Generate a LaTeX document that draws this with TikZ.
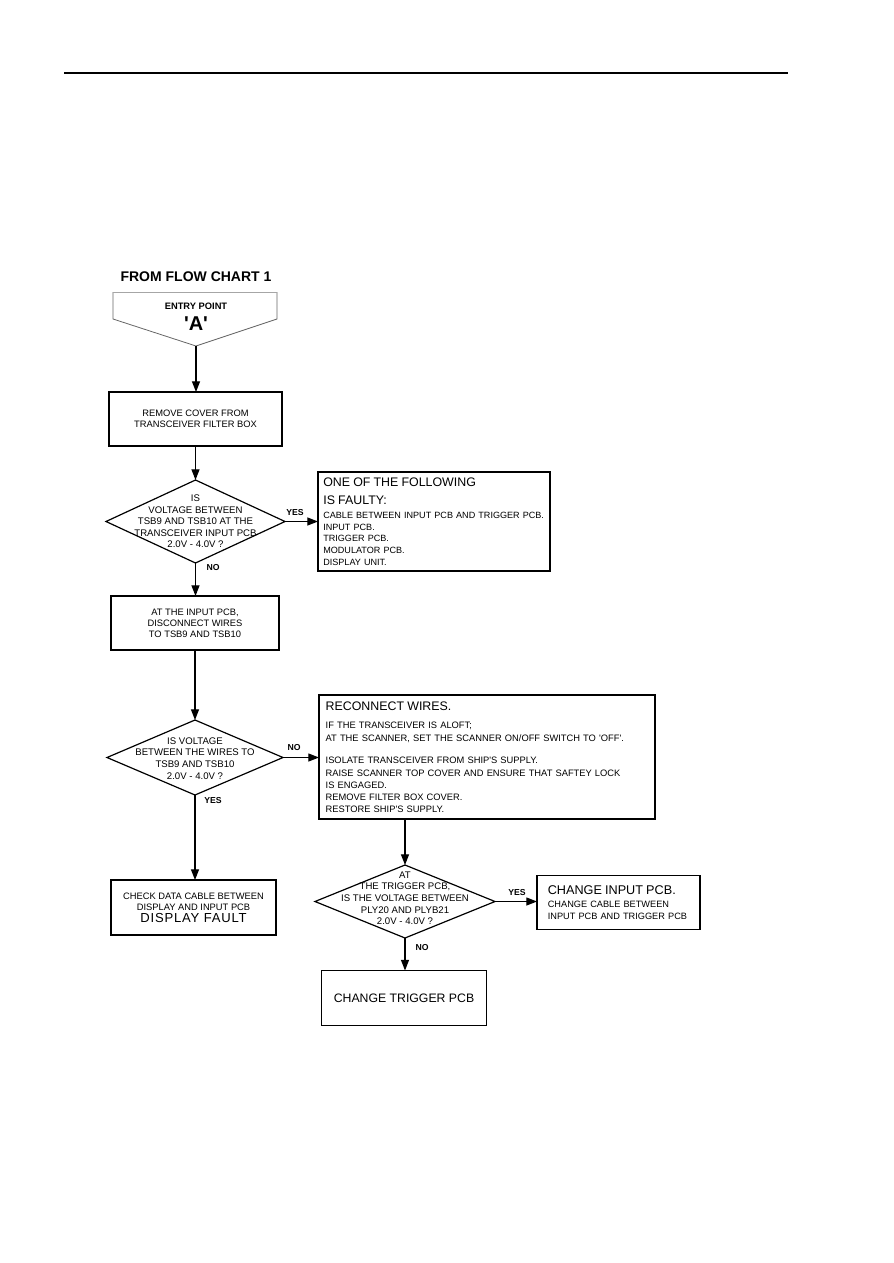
\documentclass[tikz,border=0pt]{standalone}
\usepackage{fontspec}
\setmainfont{Liberation Sans}
\usetikzlibrary{arrows.meta,shapes.geometric}
\newcommand\sq{\textquotesingle}
\newcommand\dtext[2]{\makebox[0pt]{\raisebox{#1}{\begin{tabular}{@{}c@{}}#2\end{tabular}}}}
\begin{document}
\begin{tikzpicture}[x=0.75pt,y=-0.75pt,line width=0.9pt,
  box/.style={draw, rectangle, inner sep=0pt, outer sep=0pt, align=center,
    font=\fontsize{7}{8.4}\selectfont},
  lbox/.style={draw, rectangle, inner ysep=0pt, outer sep=0pt, align=left,
    font=\fontsize{7}{8.8}\selectfont},
  dia/.style={draw, diamond, inner sep=0pt, outer sep=0pt, text height=0pt, text depth=0pt,
    font=\fontsize{7.2}{8.7}\selectfont},
  arr/.style={-{Triangle[length=8pt,width=6pt]}},
  lab/.style={font=\bfseries\fontsize{6.5}{7}\selectfont, inner sep=0pt}]
\useasboundingbox (0,0) rectangle (893,1263);
% header rule
\coordinate (hl) at (64,73);
\coordinate (hr) at (788,73);
\draw (hl) -- (hr);
% title and entry point
\node[font=\bfseries\fontsize{10.5}{12}\selectfont, inner sep=0pt] (title) at (196,277) {FROM FLOW CHART 1};
\coordinate (tip) at (196,346);
\draw[black!60, line width=0.6pt] (277,292) -- (277,319) -- (tip) -- (113,319) -- (113,292);
\draw[black!35, line width=0.6pt] (113,292) -- (277,292);
\node[align=center, inner sep=0pt, font=\bfseries] (entry) at (196,317)
  {\fontsize{7}{8}\selectfont ENTRY POINT\\[3.5pt]\fontsize{15}{15}\selectfont \sq A\sq};
% boxes
\node[box, minimum width={173*0.75}, minimum height={54*0.75}] (b1) at (195.5,419)
  {REMOVE COVER FROM\\TRANSCEIVER FILTER BOX};
\node[dia, minimum width={179*0.75}, minimum height={83*0.75}] (d1) at (195.5,521.5)
  {\dtext{-2.4pt}{IS\\VOLTAGE BETWEEN\\TSB9 AND TSB10 AT THE\\TRANSCEIVER INPUT PCB\\2.0V - 4.0V ?}};
\node[lbox, minimum width={232*0.75}, minimum height={99*0.75}, text width=166pt, inner xsep=4pt] (f) at (434,521.5)
  {\vspace*{4pt}\fontsize{9.3}{10}\selectfont ONE OF THE FOLLOWING\par IS FAULTY:\par
   \fontsize{6.8}{10.3}\selectfont \mbox{CABLE BETWEEN INPUT PCB AND TRIGGER PCB.}\par
   \fontsize{6.8}{8.8}\selectfont INPUT PCB.\par TRIGGER PCB.\par MODULATOR PCB.\par DISPLAY UNIT.};
\node[box, minimum width={168*0.75}, minimum height={54*0.75}] (b2) at (195,623)
  {AT THE INPUT PCB,\\DISCONNECT WIRES\\TO TSB9 AND TSB10};
\node[dia, minimum width={176*0.75}, minimum height={75*0.75}] (d2) at (195,757.5)
  {\dtext{-3.2pt}{IS VOLTAGE\\BETWEEN THE WIRES TO\\TSB9 AND TSB10\\2.0V - 4.0V ?}};
\node[lbox, minimum width={336*0.75}, minimum height={124*0.75}, text width=242pt, inner xsep=5pt] (r) at (487,757)
  {\vspace*{4pt}\fontsize{9.3}{10.5}\selectfont RECONNECT WIRES.\par
   \fontsize{7}{9.4}\selectfont IF THE TRANSCEIVER IS ALOFT;\par
   \fontsize{7}{10}\selectfont AT THE SCANNER, SET THE SCANNER ON/OFF SWITCH TO \sq OFF\sq.\par
   \fontsize{7}{16.5}\selectfont ISOLATE TRANSCEIVER FROM SHIP\sq S SUPPLY.\par
   \fontsize{7}{9.6}\selectfont RAISE SCANNER TOP COVER AND ENSURE THAT SAFTEY LOCK\par
   \fontsize{7}{9}\selectfont IS ENGAGED.\par REMOVE FILTER BOX COVER.\par RESTORE SHIP\sq S SUPPLY.};
\node[box, minimum width={165*0.75}, minimum height={55*0.75}] (chk) at (193.5,907.5)
  {CHECK DATA CABLE BETWEEN\\DISPLAY AND INPUT PCB\\[0.5pt]{\fontsize{9.8}{10}\selectfont\addfontfeatures{LetterSpace=6} DISPLAY FAULT}};
\node[dia, minimum width={180*0.75}, minimum height={73*0.75}] (d3) at (405,901.5)
  {\dtext{0pt}{AT\\THE TRIGGER PCB,\\IS THE VOLTAGE BETWEEN\\PLY20 AND PLYB21\\2.0V - 4.0V ?}};
\node[lbox, minimum width={163*0.75}, minimum height={54*0.75}, text width=106pt, inner xsep=8pt] (ci) at (618.5,902.5)
  {\fontsize{9.5}{10.5}\selectfont CHANGE INPUT PCB.\par
   \fontsize{6.9}{9.7}\selectfont CHANGE CABLE BETWEEN\par
   \fontsize{6.9}{9}\selectfont INPUT PCB AND TRIGGER PCB};
\node[box, minimum width={165*0.75}, minimum height={55*0.75}, font=\fontsize{9.2}{10}\selectfont] (ct) at (404,998)
  {CHANGE TRIGGER PCB};
% connectors
\draw[arr] (tip) -- (tip |- b1.north);
\draw[arr] (b1.south) -- (b1.south |- d1.north);
\draw[arr] (d1.east) -- (d1.east -| f.west);
\draw[arr] (d1.south) -- (d1.south |- b2.north);
\draw[arr] (b2.south) -- (b2.south |- d2.north);
\draw[arr] (d2.east) -- (d2.east -| r.west);
\draw[arr] (d2.south) -- (d2.south |- chk.north);
\draw[arr] (d3.north |- r.south) -- (d3.north);
\draw[arr] (d3.east) -- (d3.east -| ci.west);
\draw[arr] (d3.south) -- (d3.south |- ct.north);
% labels
\node[lab] (l1) at (295,513) {YES};
\node[lab] (l2) at (213,568) {NO};
\node[lab] (l3) at (294,748) {NO};
\node[lab] (l4) at (213,801) {YES};
\node[lab] (l5) at (517,893) {YES};
\node[lab] (l6) at (422,948) {NO};
\end{tikzpicture}
\end{document}
